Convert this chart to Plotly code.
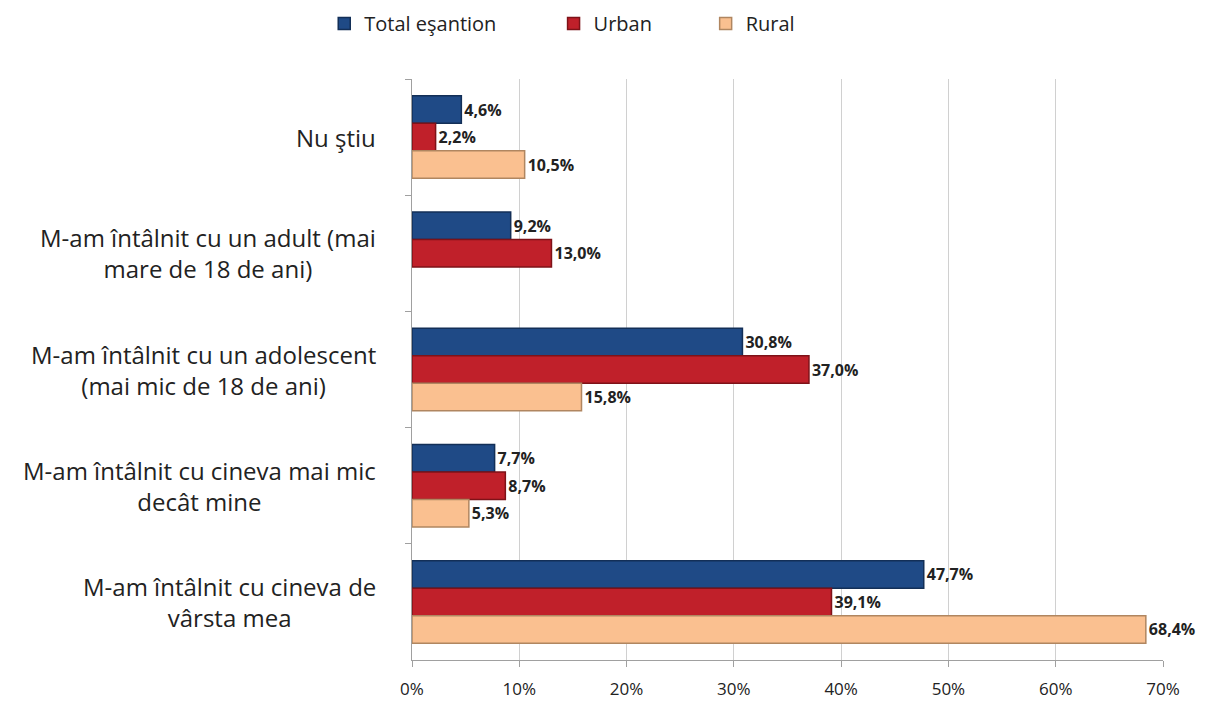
import plotly.graph_objects as go

categories = [
    "Nu ştiu",
    "M-am întâlnit cu un adult (mai<br>mare de 18 de ani)",
    "M-am întâlnit cu un adolescent<br>(mai mic de 18 de ani)",
    "M-am întâlnit cu cineva mai mic<br>decât mine",
    "M-am întâlnit cu cineva de<br>vârsta mea",
]
total = [4.6, 9.2, 30.8, 7.7, 47.7]
urban = [2.2, 13.0, 37.0, 8.7, 39.1]
rural = [10.5, None, 15.8, 5.3, 68.4]
x_ticks = [0, 10, 20, 30, 40, 50, 60, 70]

series = [
    ("Total eşantion", total, "#1F4A86", "#132F57", "legend", 0.262),
    ("Urban", urban, "#C0202A", "#7E1218", "legend2", 0.452),
    ("Rural", rural, "#FAC090", "#B08660", "legend3", 0.578),
]

def fmt(v):
    return "" if v is None else f"{v:.1f}%".replace(".", ",")

fig = go.Figure()
legend_layout = {}
for name, vals, col, edge, lg, lx in series:
    fig.add_trace(go.Bar(
        y=categories, x=vals, name=name, orientation="h",
        marker=dict(color=col, line=dict(color=edge, width=1.5)),
        text=[fmt(v) for v in vals], textposition="outside",
        textfont=dict(family="Open Sans", size=16, color="#222222", weight="bold"),
        cliponaxis=False, legend=lg, showlegend=True,
    ))
    legend_layout[lg] = dict(
        x=lx, xref="container", xanchor="left",
        y=0.978, yref="container", yanchor="middle",
        orientation="h", font=dict(size=20, color="#222222"),
        bgcolor="rgba(0,0,0,0)", visible=True,
    )

for c in categories:
    fig.add_annotation(
        x=0, xref="paper", y=c, yref="y", text=c, showarrow=False,
        xanchor="right", xshift=-34, align="center",
        font=dict(family="Open Sans", size=24, color="#222222"),
    )

fig.update_layout(
    width=1207, height=709, showlegend=True,
    barmode="group", bargap=0.29, bargroupgap=0,
    plot_bgcolor="white", paper_bgcolor="white",
    margin=dict(l=404, r=52, t=71, b=57),
    font=dict(family="Open Sans", color="#333333"),
    xaxis=dict(range=[0, 70], tickvals=x_ticks,
               ticktext=[f"{t}%" for t in x_ticks],
               showgrid=True, gridcolor="#D0D0D0", gridwidth=1,
               showline=True, linecolor="#A0A0A0", ticks="outside",
               tickcolor="#A0A0A0", ticklen=6, ticklabelstandoff=8,
               tickfont=dict(size=17, color="#222222"), zeroline=False),
    yaxis=dict(autorange="reversed", showline=True, linecolor="#A0A0A0",
               ticks="outside", tickson="boundaries", tickcolor="#A0A0A0",
               ticklen=6, showticklabels=False),
    **legend_layout,
)
fig.write_html("out.html")
